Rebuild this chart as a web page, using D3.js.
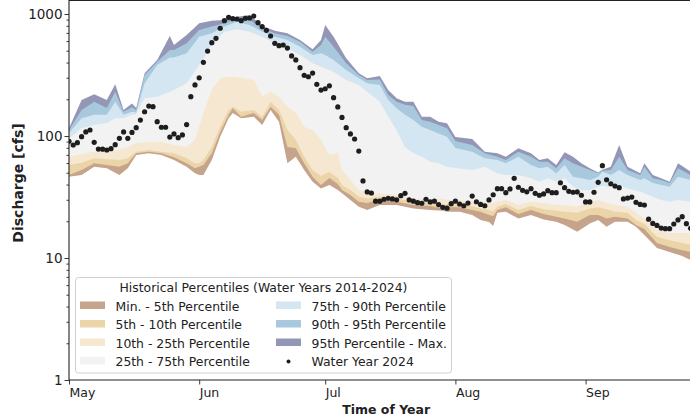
<!DOCTYPE html>
<html>
<head>
<meta charset="utf-8">
<script src="https://cdn.jsdelivr.net/npm/d3@7"></script>
<style>
body { margin: 0; background: #fff; }
text { font-family: "DejaVu Sans", sans-serif; fill: #222; }
</style>
</head>
<body>
<div id="chart"></div>
<script>
// day index 0 = May 1
var startDate = new Date(Date.UTC(2024, 4, 1));
var endDate = new Date(Date.UTC(2024, 8, 30));
var monthTicks = ["2024-05-01", "2024-06-01", "2024-07-01", "2024-08-01", "2024-09-01"];

// Water Year 2024 daily discharge (cfs), May 1 onward
var wy2024 = [90.5, 84.4, 88.1, 98.7, 108, 112, 88.8, 78.2, 78, 76.8,
	78.7, 84.9, 95.7, 108, 95.7, 107, 117, 135, 158, 176,
	174, 131, 118, 118, 98, 104, 96.8, 102, 124, 210,
	262, 300, 402, 497, 582, 632, 764, 881, 940, 915,
	910, 881, 922, 927, 963, 849, 787, 735, 660, 575,
	550, 557, 526, 453, 420, 363, 314, 306, 328, 265,
	238, 244, 258, 206, 173, 142, 117, 104, 94.5, 75.3,
	42.8, 34.8, 34.1, 29.2, 29.2, 30.3, 30.9, 30.5, 30.0, 32.4,
	33.9, 29.9, 29.2, 28.4, 28.1, 30.3, 28.8, 29.2, 27.4, 26.0,
	25.6, 27.9, 29.2, 27.7, 26.8, 28.2, 32.2, 28.9, 27.5, 26.8,
	29.9, 33.0, 37.0, 37.0, 34.3, 36.8, 45.0, 38.0, 35.9, 34.9,
	37.0, 33.9, 32.7, 33.5, 35.6, 34.3, 34.3, 41.4, 37.7, 35.2,
	34.6, 34.8, 32.7, 28.8, 28.8, 34.6, 41.7, 57.1, 43.8, 40.6,
	38.9, 37.7, 30.5, 31.0, 31.6, 28.6, 27.5, 27.2, 20.8, 19.2,
	18.5, 17.6, 17.4, 17.4, 19.0, 20.5, 21.8, 19.1, 17.5];

// upper percentiles (historical), sampled days
var upperDays = [0, 3, 6, 9, 11, 13, 15, 16, 18, 21, 24, 25, 28, 31, 34, 37, 40, 43, 46, 49,
	52, 55, 58, 60, 61, 63, 66, 69, 71, 74, 76, 78, 80, 82, 84, 86, 88, 90, 92, 96,
	99, 102, 104, 107, 110, 112, 114, 116, 118, 120, 122, 124, 126, 127, 129, 131, 133, 136, 137, 139,
	141, 143, 145, 148];
var pMax = [116, 197, 220, 197, 265, 163, 185, 170, 327, 420, 661, 557, 673, 840, 882, 894, 950, 980, 798, 730,
	695, 613, 514, 613, 813, 652, 434, 327, 297, 310, 238, 204, 191, 191, 144, 144, 131, 127, 98, 94.5,
	74.3, 72.1, 67.7, 79.3, 72.1, 63.6, 65.6, 57.8, 73.5, 67.7, 59.7, 54.3, 50.1, 53, 56, 84.4, 56, 49.4, 59.7, 47.9,
	45, 42.2, 59.7, 51];
var p95 = [112, 163, 191, 170, 231, 158, 172, 163, 316, 407, 507, 507, 576, 740, 788, 840, 923, 894, 764, 695,
	661, 593, 491, 557, 652, 540, 395, 316, 288, 291, 217, 191, 180, 176, 135, 131, 123, 116, 91, 84.4,
	72.1, 67.7, 63.6, 74.3, 67.7, 61.5, 61.5, 54.3, 65.6, 59.7, 56, 52.6, 49.4, 52, 52.6, 67.7, 52.6, 47.9, 56, 45,
	43.6, 41.1, 54.3, 47.9];
var p90 = [106, 140, 149, 149, 191, 149, 158, 156, 270, 382, 440, 440, 477, 652, 695, 788, 865, 813, 717, 652,
	613, 540, 462, 477, 462, 420, 348, 297, 270, 262, 197, 169, 149, 135, 119, 112, 105, 98.7, 79.7, 74.3,
	65.6, 63.6, 59.7, 67.7, 57.8, 54.3, 56, 49.4, 57.8, 46.4, 45, 43.6, 46.4, 51, 47.9, 52.6, 47.9, 43.6, 45, 41.1,
	39.6, 38.4, 46.4, 43.6];
var p75 = [96, 116, 123, 128, 140, 140, 149, 151, 204, 210, 231, 238, 270, 382, 557, 717, 749, 717, 652, 576,
	524, 462, 395, 370, 359, 337, 288, 262, 231, 191, 144, 112, 81, 72.5, 67.7, 61.5, 59.7, 56, 54.6, 52.6,
	56, 49.4, 47.9, 47.9, 45, 42.2, 45, 42.2, 45, 38.4, 36.1, 36.1, 38.4, 39, 38.4, 39.6, 37.2, 34.9, 34.0, 31.8,
	29.9, 28.9, 29.9, 28.9];

// lower percentiles (historical), sampled days
var lowerDays = [0, 3, 6, 9, 12, 14, 16, 19, 22, 25, 28, 30, 31, 32, 34, 36, 38, 39, 41, 44,
	46, 48, 50, 52, 54, 56, 58, 60, 62, 64, 65, 67, 69, 71, 74, 78, 82, 86, 89, 90,
	93, 96, 98, 100, 101, 102, 104, 107, 110, 113, 116, 118, 121, 124, 126, 128, 130, 133, 135, 137,
	140, 143, 146, 148];
var p25 = [67.7, 71.2, 74.3, 73.1, 76.8, 81.3, 87.1, 89.8, 89.8, 84.4, 81.3, 92.7, 119, 154, 238, 297, 306, 306, 299, 288,
	210, 231, 210, 174, 154, 119, 112, 92.7, 69.9, 72.5, 52.6, 43.6, 36.1, 34.0, 34.0, 32.8, 30.8, 29.9, 30.8, 29.9,
	29.9, 28.9, 28.9, 28.2, 28.3, 28.9, 29.9, 27.2, 28.9, 28.2, 27.2, 27.2, 26.3, 28.9, 29.9, 28.4, 27.2, 26.3, 23.5, 21.3,
	17.0, 16.0, 16.0, 16.0];
var p10 = [57.8, 60.5, 65.6, 64.4, 63.6, 65.6, 74.3, 76.8, 74.3, 72.1, 65.6, 59.7, 59.7, 63.6, 81.3, 119, 163, 174, 158, 163,
	144, 191, 163, 112, 92.7, 67.7, 52.6, 47, 50.7, 45.3, 39.6, 36.1, 31.8, 30.8, 31.8, 30.8, 28.9, 28.2, 27.2, 27.7,
	27.2, 26.7, 25.5, 24.7, 24.1, 26.3, 27.7, 24.7, 26.7, 25.1, 24.4, 23.9, 23.5, 25.5, 26.0, 25.1, 23.9, 23.5, 20.5, 19.0,
	14.9, 14.0, 13.3, 12.8];
var p5 = [47.9, 52.6, 59.7, 57.8, 56, 59.7, 72.1, 74.3, 72.1, 66.9, 59.7, 54.3, 56, 57.8, 72.1, 108, 149, 169, 144, 154,
	135, 174, 149, 81.3, 79.3, 59.7, 46.4, 39.6, 45.3, 40.4, 36.1, 32.8, 28.9, 28.2, 29.9, 28.9, 27.2, 26.7, 25.5, 26.0,
	26.0, 24.7, 23.9, 22.5, 22.1, 24.7, 26.0, 22.9, 24.7, 22.9, 21.8, 21.1, 19.8, 22.5, 22.5, 21.1, 21.8, 21.1, 18.6, 17.3,
	13.3, 12.3, 11.6, 11.2];
var pMin = [46.4, 47.9, 56, 54.3, 47.9, 54.3, 69.9, 72.1, 69.9, 63.6, 56, 49.4, 47.9, 47.9, 63.6, 98.7, 140, 154, 140, 144,
	123, 163, 131, 59.7, 67.7, 52.6, 42.2, 37.2, 39.6, 36.1, 34.0, 29.9, 26.3, 24.7, 27.2, 27.2, 25.5, 24.7, 24.4, 23.9,
	23.9, 22.5, 20.5, 19.7, 18.3, 23.5, 23.9, 21.1, 22.5, 20.7, 19.8, 18.6, 16.4, 19.2, 20.5, 18.0, 19.8, 19.8, 18.0, 15.4,
	12.1, 11.2, 10.4, 9.6];

var legendLabels = ["Min. - 5th Percentile", "5th - 10th Percentile", "10th - 25th Percentile", "25th - 75th Percentile",
	"75th - 90th Percentile", "90th - 95th Percentile", "95th Percentile - Max.", "Water Year 2024"];
var bandColors = ["#c5a48b", "#ecd4a9", "#f5e7d0", "#f2f2f2", "#d4e6f1", "#a8c8dd", "#9496b6"];

var width = 690, height = 418;
var plot = {left: 69, top: 0.5, bottom: 380, right: 69 + 152 * 4.2};

var svg = d3.select("#chart").append("svg")
	.attr("width", width)
	.attr("height", height)
	.style("display", "block");

var dayDate = function(d) { return new Date(startDate.getTime() + d * 864e5); };

var x = d3.scaleUtc().domain([startDate, endDate]).range([plot.left, plot.right]);
var y = d3.scaleLog().domain([1, 1000]).range([plot.bottom, 14]);

svg.append("clipPath").attr("id", "clip")
	.append("rect")
	.attr("x", plot.left).attr("y", plot.top)
	.attr("width", plot.right - plot.left).attr("height", plot.bottom - plot.top);

var g = svg.append("g").attr("clip-path", "url(#clip)");

// painter order: each boundary filled down to the bottom, top band first
var layers = [
	{days: upperDays, vals: pMax, color: bandColors[6]},
	{days: upperDays, vals: p95, color: bandColors[5]},
	{days: upperDays, vals: p90, color: bandColors[4]},
	{days: upperDays, vals: p75, color: bandColors[3]},
	{days: lowerDays, vals: p25, color: bandColors[2]},
	{days: lowerDays, vals: p10, color: bandColors[1]},
	{days: lowerDays, vals: p5, color: bandColors[0]},
	{days: lowerDays, vals: pMin, color: "#ffffff"}
];

var area = d3.area()
	.x(function(d) { return x(dayDate(d[0])); })
	.y0(plot.bottom)
	.y1(function(d) { return y(d[1]); });

layers.forEach(function(l) {
	var pts = l.days.map(function(d, i) { return [d, l.vals[i]]; });
	g.append("path")
		.attr("d", area(pts))
		.attr("fill", l.color);
});

g.selectAll("circle.obs")
	.data(wy2024)
	.enter().append("circle")
	.attr("class", "obs")
	.attr("cx", function(d, i) { return x(dayDate(i)); })
	.attr("cy", function(d) { return y(d); })
	.attr("r", 2.6)
	.attr("fill", "#1e1e1e");

// y axis: major and minor ticks
var minorVals = [];
[1, 10, 100].forEach(function(dec) {
	for (var k = 2; k <= 9; k++) minorVals.push(dec * k);
});
var yMinor = svg.append("g")
	.attr("transform", "translate(" + plot.left + ",0)")
	.call(d3.axisLeft(y).tickValues(minorVals).tickSize(2.5).tickFormat(""));
var yMajor = svg.append("g")
	.attr("transform", "translate(" + plot.left + ",0)")
	.call(d3.axisLeft(y).tickValues([1, 10, 100, 1000]).tickSize(4.5).tickFormat(d3.format("d")));
yMajor.selectAll("text")
	.attr("x", -6.5)
	.attr("dy", "0.33em")
	.style("font-size", "13.5px");

var xAxis = svg.append("g")
	.attr("transform", "translate(0," + plot.bottom + ")")
	.call(d3.axisBottom(x)
		.tickValues(monthTicks.map(function(s) { return new Date(s + "T00:00:00Z"); }))
		.tickFormat(d3.utcFormat("%b"))
		.tickSize(4.5));
xAxis.selectAll("text")
	.attr("text-anchor", "start")
	.attr("y", 8)
	.attr("dy", "0.71em")
	.style("font-size", "12.5px");

svg.selectAll(".domain").remove();
svg.selectAll(".tick line").attr("stroke", "#222").attr("stroke-width", 0.9);
svg.selectAll(".tick text").attr("font-family", null).style("fill", "#222");

// spines
svg.append("line").attr("x1", plot.left).attr("x2", plot.left).attr("y1", 0).attr("y2", plot.bottom)
	.attr("stroke", "#222").attr("stroke-width", 1.1);
svg.append("line").attr("x1", plot.left).attr("x2", plot.right).attr("y1", plot.bottom).attr("y2", plot.bottom)
	.attr("stroke", "#222").attr("stroke-width", 1.1);
svg.append("line").attr("x1", plot.left).attr("x2", plot.right).attr("y1", plot.top).attr("y2", plot.top)
	.attr("stroke", "#222").attr("stroke-width", 1.1);

// axis titles
svg.append("text")
	.attr("x", (plot.left + plot.right) / 2 - 2)
	.attr("y", 413.5)
	.attr("text-anchor", "middle")
	.style("font-size", "12.5px")
	.style("font-weight", "bold")
	.text("Time of Year");
svg.append("text")
	.attr("transform", "translate(22.5," + 183 + ") rotate(-90)")
	.attr("text-anchor", "middle")
	.style("font-size", "14px")
	.style("font-weight", "bold")
	.text("Discharge [cfs]");

// legend
var lg = svg.append("g").attr("class", "legend");
lg.append("rect")
	.attr("x", 75.5).attr("y", 277.5)
	.attr("width", 376).attr("height", 95.5)
	.attr("rx", 3)
	.attr("fill", "#fff").attr("fill-opacity", 0.8)
	.attr("stroke", "#d0d0d0").attr("stroke-width", 1);
lg.append("text")
	.attr("x", 263.5).attr("y", 292)
	.attr("text-anchor", "middle")
	.style("font-size", "12.4px")
	.text("Historical Percentiles (Water Years 2014-2024)");

var rowY = [310.5, 329, 347.5, 366];
var colX = [80, 276];
legendLabels.forEach(function(label, i) {
	var col = i < 4 ? 0 : 1, row = i % 4;
	var gx = colX[col], gy = rowY[row];
	if (i < 7) {
		lg.append("rect")
			.attr("x", gx).attr("y", gy - 9)
			.attr("width", 25).attr("height", 7.5)
			.attr("fill", bandColors[i]);
	} else {
		lg.append("circle")
			.attr("cx", gx + 12.5).attr("cy", gy - 4.5)
			.attr("r", 2)
			.attr("fill", "#1e1e1e");
	}
	lg.append("text")
		.attr("x", gx + 35.5).attr("y", gy)
		.style("font-size", "12.4px")
		.text(label);
});
</script>
</body>
</html>
